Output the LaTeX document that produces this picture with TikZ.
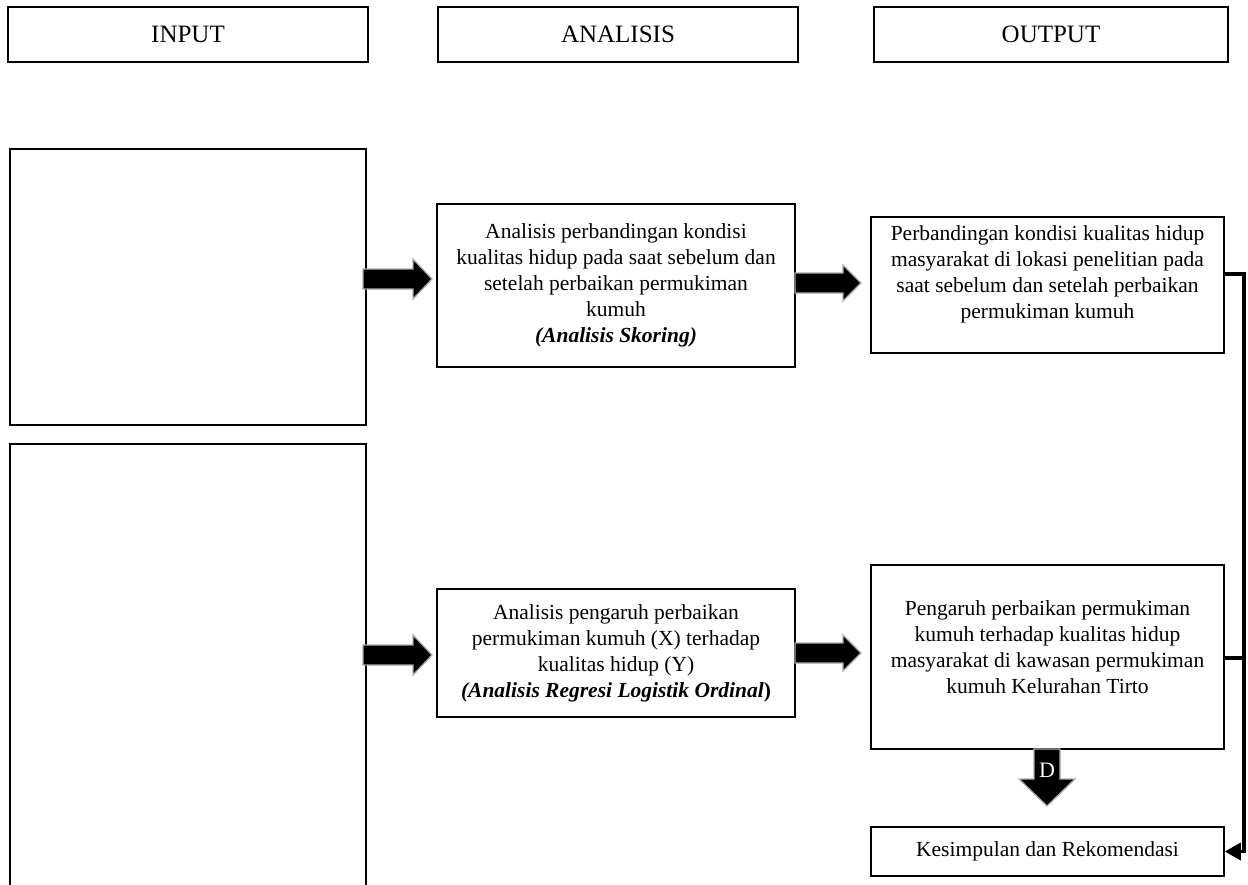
\documentclass[tikz,border=0pt]{standalone}
\usepackage{fontspec}
\setmainfont{Liberation Serif}
\usetikzlibrary{arrows.meta}
\begin{document}
\begin{tikzpicture}[x=1pt,y=-1pt,
  box/.style={draw, line width=1.6pt, fill=white, inner sep=0pt, align=center,
    font=\fontsize{21.5}{26}\selectfont},
  hdr/.style={draw, line width=1.6pt, inner sep=0pt, minimum height=55pt,
    font=\fontsize{25}{28}\selectfont},
  txt/.style={inner sep=0pt, align=center, font=\fontsize{21.5}{26}\selectfont},
  blk/.style={fill=black, draw=gray!65, line width=1.3pt, line join=miter},
  conn/.style={line width=3.6pt},
]
\useasboundingbox (0,0) rectangle (1248,884);

% headers
\node[hdr, minimum width=360pt] (hin)  at (188,34.5) {INPUT};
\node[hdr, minimum width=360pt] (han)  at (618,34.5) {ANALISIS};
\node[hdr, minimum width=354pt] (hout) at (1051,34.5) {OUTPUT};

% input boxes
\node[box, minimum width=356pt, minimum height=276pt] (in1) at (188,287) {};
\node[box, minimum width=356pt, minimum height=456pt] (in2) at (188,672) {};

% analysis boxes
\node[box, minimum width=358pt, minimum height=163pt] (a1) at (616,285.5)
  {Analisis perbandingan kondisi\\ kualitas hidup pada saat sebelum dan\\
   setelah perbaikan permukiman\\ kumuh\\ \textbf{\textit{(Analisis Skoring)}}};
\node[box, minimum width=358pt, minimum height=128pt] (a2) at (616,653)
  {Analisis pengaruh perbaikan\\ permukiman kumuh (X) terhadap\\
   kualitas hidup (Y)\\ \textbf{\textit{(Analisis Regresi Logistik Ordinal})}};

% output boxes
\node[box, minimum width=353pt, minimum height=136pt] (o1) at (1047.5,285) {};
\node[txt] (o1t) at (1047.5,274)
  {Perbandingan kondisi kualitas hidup\\ masyarakat di lokasi penelitian pada\\
   saat sebelum dan setelah perbaikan\\ permukiman kumuh};
\node[box, minimum width=353pt, minimum height=184pt] (o2) at (1047.5,657) {};
\node[txt] (o2t) at (1047.5,647)
  {Pengaruh perbaikan permukiman\\ kumuh terhadap kualitas hidup\\
   masyarakat di kawasan permukiman\\ kumuh Kelurahan Tirto};
\node[box, minimum width=353pt, minimum height=49pt] (k) at (1047.5,851.5)
  {Kesimpulan dan Rekomendasi};

% block arrows input -> analysis
\draw[blk] (363,269) -- (413,269) -- (413,259) -- (432,279) -- (413,299)
  -- (413,289) -- (363,289) -- cycle;
\draw[blk] (363,645) -- (413,645) -- (413,635) -- (432,655) -- (413,675)
  -- (413,665) -- (363,665) -- cycle;
% block arrows analysis -> output
\draw[blk] (795,273) -- (843,273) -- (843,265) -- (861,283) -- (843,301)
  -- (843,293) -- (795,293) -- cycle;
\draw[blk] (795,643) -- (843,643) -- (843,635) -- (861,653) -- (843,671)
  -- (843,663) -- (795,663) -- cycle;
% D arrow
\draw[blk] (1034,749) -- (1034,779) -- (1019,779) -- (1047,806) -- (1075,779)
  -- (1060,779) -- (1060,749) -- cycle;
\node[inner sep=0pt, text=white, font=\fontsize{22}{24}\selectfont] (dl) at (1047,770) {D};

% right connector
\coordinate (rc) at (1244,274);
\draw[conn] (o1.east |- rc) -- (rc) |- (k.east)
  [arrows={-{Triangle[length=16pt,width=17pt]}}];
\draw[conn] (o2.east |- 0,658) -- (1244,658);
\end{tikzpicture}
\end{document}
